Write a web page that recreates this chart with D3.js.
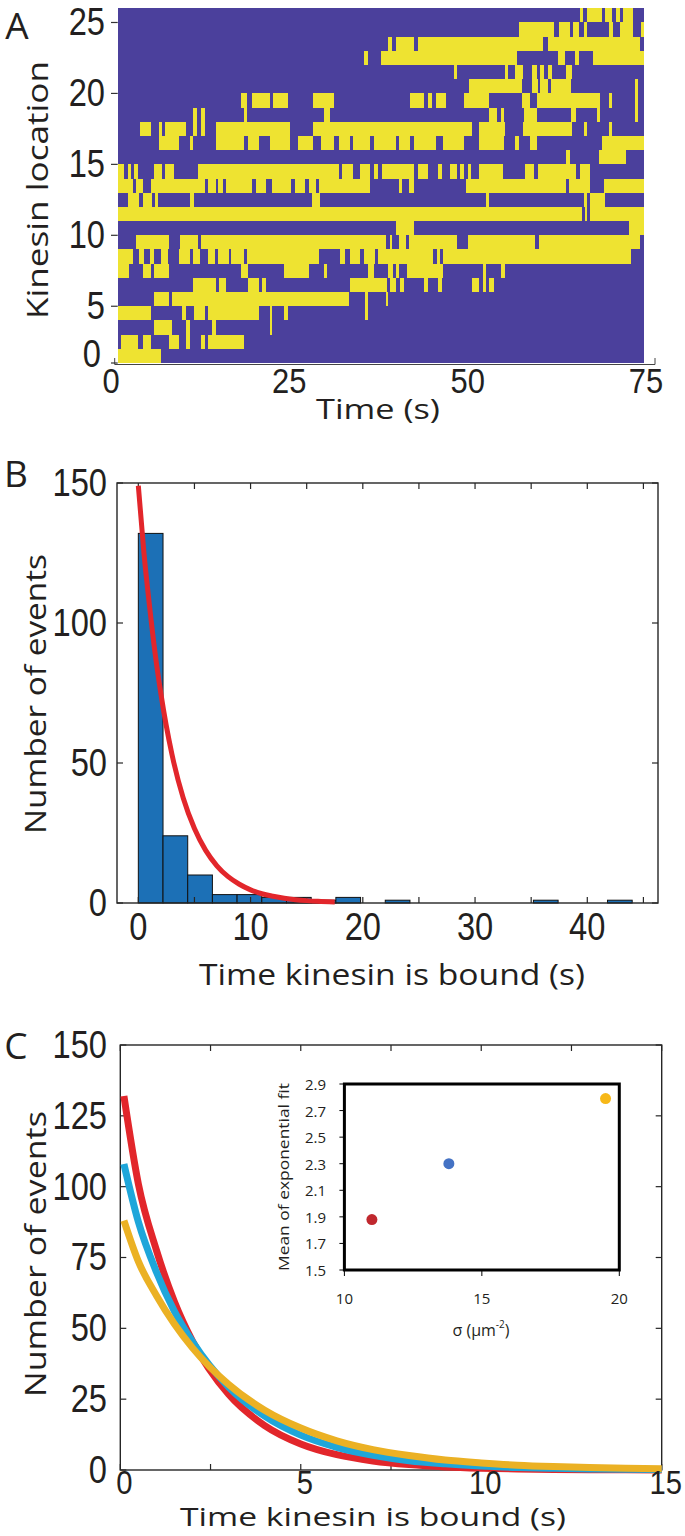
<!DOCTYPE html>
<html><head><meta charset="utf-8">
<script src="https://cdn.jsdelivr.net/npm/d3@7"></script>
<style>body{margin:0;background:#fff} svg{display:block}</style>
</head><body>
<svg id="fig" width="685" height="1536"></svg>
<script>
// ---------------- DATA ----------------
// Panel A: kymograph, bound intervals [start s, end s] per kinesin location
const kinesinLocations = [25,24,23,22,21,20,19,18,17,16,15,14,13,12,11,10,9,8,7,6,5,4,3,2,1];
const boundIntervals = [
 [[64.6,65.0],[65.5,67.6],[68.1,69.0],[69.6,70.1],[70.6,72.0]],
 [[56.1,61.0],[61.7,63.2],[63.6,64.4],[65.1,65.5],[68.6,69.2],[70.1,72.0],[73.1,73.5]],
 [[38.0,38.5],[39.0,41.6],[42.1,59.5],[60.1,72.9]],
 [[34.6,35.1],[37.0,55.8],[61.6,62.5],[63.9,64.4],[66.4,73.5]],
 [[47.1,47.5],[54.2,54.6],[55.6,56.7],[57.9,58.6],[59.1,59.6],[60.1,60.7],[62.6,63.5]],
 [[49.2,56.5],[57.9,58.7],[59.1,60.1],[60.6,63.4],[72.2,72.6]],
 [[17.5,18.4],[19.1,21.5],[22.0,24.0],[27.5,30.5],[41.0,43.0],[43.5,44.1],[44.6,46.0],[48.5,52.0],[56.5,57.6],[58.6,67.4],[68.6,69.1],[72.2,72.6]],
 [[10.9,11.4],[12.0,12.5],[18.0,18.4],[29.0,29.9],[52.0,53.0],[53.6,54.0],[56.8,58.6],[63.4,64.1],[67.0,67.4],[72.2,72.6]],
 [[3.5,5.0],[6.1,6.5],[7.0,9.9],[10.9,11.4],[12.0,12.5],[14.0,24.4],[27.5,49.6],[50.6,54.2],[56.7,63.5],[65.2,65.5],[68.6,69.1]],
 [[6.1,8.9],[10.4,10.9],[14.0,18.0],[18.5,20.0],[21.5,24.4],[25.5,27.5],[28.6,30.5],[31.1,32.6],[33.1,35.4],[36.0,39.0],[39.5,41.0],[41.6,44.6],[45.6,48.5],[50.6,54.0],[55.6,56.1],[57.6,58.6],[67.7,73.5]],
 [[62.7,63.2],[67.2,71.0]],
 [[0.4,1.3],[1.8,2.3],[2.7,3.3],[5.5,6.5],[7.0,8.3],[11.5,31.1],[31.6,33.1],[34.0,35.5],[36.0,36.5],[37.1,41.6],[42.1,43.5],[44.9,45.4],[46.6,47.5],[48.0,48.5],[49.0,49.4],[50.6,53.9],[57.0,58.2],[58.7,64.1],[64.6,66.0]],
 [[0.4,2.5],[3.0,3.9],[5.1,12.5],[12.9,14.0],[14.4,15.1],[15.5,19.1],[19.6,21.0],[21.9,24.5],[25.0,26.4],[27.0,27.9],[28.3,35.4],[39.5,39.9],[40.9,41.6],[48.7,62.7],[63.1,66.0],[67.9,73.5]],
 [[1.8,3.4],[3.9,5.2],[5.6,6.0],[10.5,11.0],[27.4,28.5],[51.5,52.0],[65.1,65.5],[66.0,68.1]],
 [[0.4,64.9],[65.3,65.6],[66.0,73.5]],
 [[39.0,41.5],[71.4,73.5]],
 [[3.0,7.5],[9.0,11.5],[12.0,37.6],[38.2,38.5],[39.5,40.4],[40.9,47.5],[49.1,58.3],[58.9,72.9]],
 [[0.4,2.6],[3.4,4.0],[4.9,5.4],[6.4,7.4],[8.9,10.5],[10.9,11.8],[13.0,13.9],[14.4,15.8],[16.2,17.9],[18.3,28.3],[31.3,32.0],[32.6,34.1],[34.6,36.1],[36.6,44.2],[44.7,45.1],[45.6,71.7]],
 [[0.4,2.0],[3.9,5.0],[5.5,7.5],[17.5,18.5],[23.5,27.0],[29.0,29.5],[35.1,36.0],[38.0,38.7],[39.1,39.5],[40.6,45.6],[51.1,51.6],[53.6,54.2]],
 [[10.9,14.0],[14.5,15.4],[18.5,20.0],[20.5,21.0],[32.6,37.8],[38.2,39.0],[39.6,40.1],[42.9,43.5],[44.9,45.4],[49.6,50.6],[51.1,51.5],[52.0,52.6]],
 [[5.5,7.5],[8.0,32.5],[34.7,35.1],[37.6,38.0]],
 [[0.4,5.0],[9.4,9.9],[11.0,12.5],[12.9,20.0],[21.5,21.9],[23.5,24.0],[34.7,35.1]],
 [[5.5,7.9],[9.9,10.4],[13.5,14.0],[21.5,21.9]],
 [[0.9,3.3],[3.9,5.0],[7.5,8.9],[9.9,10.4],[12.0,12.5],[12.9,18.0]],
 [[0.4,6.4]]
];
const recordingRange = [0.4, 73.5];
const ticksA_x = [0, 25, 50, 75];
const ticksA_y = [0, 5, 10, 15, 20, 25];

// Panel B: histogram of bound times
const histBinLeft = [0,2.2,4.4,6.6,8.8,11,13.2,15.4,17.6,19.8,22,24.2,26.4,28.6,30.8,33,35.2,37.4,39.6,41.8];
const histCounts  = [132,24,10,3,3,2,2,1,2,0,1,0,0,0,0,0,1,0,0,1];
const histBinWidth = 2.2;
const fitB_t = [0,0.5,1,1.5,2,3,4,5,6,7,8,9,10,11,12,13,14,15,16,17.5];
const fitB_n = [149,125,106,89,75,53,37.5,26.6,18.8,13.3,9.4,6.7,4.7,3.3,2.4,1.7,1.2,0.85,0.6,0.4];
const ticksB_x = [0,5,10,15,20,25,30,35,40,45];
const labelsB_x = [0,10,20,30,40];
const ticksB_y = [0,50,100,150];

// Panel C: exponential fits for three densities
const fitC_t      = [0.1,0.5,1,1.5,2,3,4,5,6,7,8,9,10,11,12,13,14,15];
const fitC_red    = [132,101,77.6,59.4,45.5,26.7,15.7,9.2,5.4,3.2,1.9,1.1,0.65,0.38,0.22,0.13,0.08,0.04];
const fitC_blue   = [108,87.6,69.9,56.0,45.3,29.3,19.0,12.3,8.0,5.2,3.3,2.2,1.4,0.9,0.6,0.38,0.25,0.16];
const fitC_yellow = [88,73.6,61.6,51.5,43.1,30.2,21.1,14.8,10.3,7.2,5.1,3.5,2.5,1.7,1.2,0.85,0.6,0.42];
const ticksC_x = [0,2.5,5,7.5,10,12.5,15];
const labelsC_x = [0,5,10,15];
const ticksC_y = [0,25,50,75,100,125,150];

// Inset: mean of exponential fit vs density
const insetSigma = [11.0, 13.8, 19.5];
const insetMean  = [1.88, 2.30, 2.79];
const insetColors = ["#C0282E", "#4472C4", "#F7B818"];
const insetTicksY = [1.5,1.7,1.9,2.1,2.3,2.5,2.7,2.9];
const insetTicksX = [10,15,20];

// ---------------- DRAW ----------------
const svg = d3.select("#fig");
const tickFont = "'Liberation Sans', Arial, sans-serif";
const titleFont = "'Open Sans', 'Noto Sans', sans-serif";
const ink = "#231f20";

function label(x, y, txt, size, anchor, opts={}) {
  const t = svg.append("text").attr("x", x).attr("y", y).text(txt)
    .attr("font-family", opts.font || titleFont).attr("font-size", size)
    .attr("text-anchor", anchor).attr("dominant-baseline", "central").attr("fill", ink);
  if (opts.len) t.attr("textLength", opts.len).attr("lengthAdjust", "spacingAndGlyphs");
  if (opts.rot) t.attr("transform", `rotate(-90,${x},${y})`);
  return t;
}
// condensed numeric tick label
function tickLabel(x, y, txt, anchor, size=38) {
  return svg.append("text").attr("transform", `translate(${x},${y}) scale(0.86,1)`)
    .text(txt).attr("font-family", tickFont).attr("font-size", size)
    .attr("text-anchor", anchor).attr("dominant-baseline", "central").attr("fill", ink);
}

// ---- Panel A ----
const xA = d3.scaleLinear([0, 75], [114.7, 655]);
const xAlabel = d3.scaleLinear([0, 75], [111, 646]);
const yA = d3.scaleLinear([1, 26], [363, 8.3]).clamp(true);
const gA = svg.append("g").attr("shape-rendering", "crispEdges");
gA.append("rect").attr("x", xA(recordingRange[0])).attr("y", yA(26))
  .attr("width", xA(recordingRange[1]) - xA(recordingRange[0])).attr("height", yA(1) - yA(26))
  .attr("fill", "#4B409C");
kinesinLocations.forEach((loc, i) => {
  gA.selectAll(null).data(boundIntervals[i]).join("rect")
    .attr("x", d => xA(d[0])).attr("width", d => xA(d[1]) - xA(d[0]))
    .attr("y", yA(loc + 1)).attr("height", yA(loc) - yA(loc + 1))
    .attr("fill", "#EEE331");
});
svg.append("path").attr("d", `M${xA(0)},${yA(0)-5}V${yA(0)+1.5}H${xA(75)}V${yA(0)-5}`)
  .attr("fill", "none").attr("stroke", "#444").attr("stroke-width", 1);
ticksA_y.forEach(v => {
  svg.append("line").attr("x1", 111).attr("x2", 117.7).attr("y1", yA(v)).attr("y2", yA(v))
    .attr("stroke", "#333").attr("stroke-width", 1.2);
  tickLabel(v === 0 ? 101 : 105, yA(v) - (v === 0 ? 9 : 0), v, "end");
});
ticksA_x.forEach(v => tickLabel(xAlabel(v), 381, v, "middle", 36));
label(378, 408, "Time (s)", 28, "middle", {len: 124});
label(36, 190, "Kinesin location", 29, "middle", {len: 258, rot: true});
label(17, 24, "A", 37, "middle");

// ---- Panel B ----
const xB = d3.scaleLinear([-1.9, 46.3], [117, 658]);
const yB = d3.scaleLinear([0, 150], [903, 483]);
const bins = histBinLeft.map((l, i) => ({l, n: histCounts[i]})).filter(d => d.n > 0);
svg.append("g").selectAll("rect").data(bins).join("rect")
  .attr("x", d => xB(d.l)).attr("width", d => xB(d.l + histBinWidth) - xB(d.l))
  .attr("y", d => yB(d.n)).attr("height", d => yB(0) - yB(d.n))
  .attr("fill", "#1C70B6").attr("stroke", "#111").attr("stroke-width", 1);
svg.append("rect").attr("x", 117).attr("y", 483).attr("width", 658-117).attr("height", 903-483)
  .attr("fill", "none").attr("stroke", "#262626").attr("stroke-width", 1.4);
ticksB_x.forEach(v => {
  svg.append("line").attr("x1", xB(v)).attr("x2", xB(v)).attr("y1", 903).attr("y2", 897).attr("stroke", "#262626").attr("stroke-width", 1.2);
  svg.append("line").attr("x1", xB(v)).attr("x2", xB(v)).attr("y1", 483).attr("y2", 489).attr("stroke", "#262626").attr("stroke-width", 1.2);
});
ticksB_y.forEach(v => {
  svg.append("line").attr("x1", 117).attr("x2", 123).attr("y1", yB(v)).attr("y2", yB(v)).attr("stroke", "#262626").attr("stroke-width", 1.2);
  svg.append("line").attr("x1", 658).attr("x2", 652).attr("y1", yB(v)).attr("y2", yB(v)).attr("stroke", "#262626").attr("stroke-width", 1.2);
  tickLabel(107, yB(v), v, "end");
});
svg.append("path").datum(fitB_t.map((t, i) => [t, fitB_n[i]]))
  .attr("d", d3.line().x(d => xB(d[0])).y(d => yB(d[1])).curve(d3.curveMonotoneX))
  .attr("fill", "none").attr("stroke", "#E2262B").attr("stroke-width", 5);
labelsB_x.forEach(v => tickLabel(xB(v), 927, v, "middle"));
label(392, 973, "Time kinesin is bound (s)", 29, "middle", {len: 386});
label(34, 694, "Number of events", 29, "middle", {len: 280, rot: true});
label(16, 472, "B", 37, "middle");

// ---- Panel C ----
const xC = d3.scaleLinear([0, 15], [120.3, 661.7]);
const yC = d3.scaleLinear([0, 150], [1470, 1045]);
svg.append("rect").attr("x", xC(0)).attr("y", yC(150)).attr("width", xC(15) - xC(0)).attr("height", yC(0) - yC(150))
  .attr("fill", "none").attr("stroke", "#262626").attr("stroke-width", 1.4);
ticksC_x.forEach(v => {
  svg.append("line").attr("x1", xC(v)).attr("x2", xC(v)).attr("y1", yC(0)).attr("y2", yC(0) - 6).attr("stroke", "#262626").attr("stroke-width", 1.2);
  svg.append("line").attr("x1", xC(v)).attr("x2", xC(v)).attr("y1", yC(150)).attr("y2", yC(150) + 6).attr("stroke", "#262626").attr("stroke-width", 1.2);
});
ticksC_y.forEach(v => {
  svg.append("line").attr("x1", xC(0)).attr("x2", xC(0) + 6).attr("y1", yC(v)).attr("y2", yC(v)).attr("stroke", "#262626").attr("stroke-width", 1.2);
  svg.append("line").attr("x1", xC(15)).attr("x2", xC(15) - 6).attr("y1", yC(v)).attr("y2", yC(v)).attr("stroke", "#262626").attr("stroke-width", 1.2);
  tickLabel(107, yC(v), v, "end");
});
const lineC = d3.line().x(d => xC(d[0])).y(d => yC(d[1])).curve(d3.curveMonotoneX);
[[fitC_red, "#E2262B"], [fitC_blue, "#1EA6DA"], [fitC_yellow, "#EBB124"]].forEach(([vals, col]) => {
  svg.append("path").datum(fitC_t.map((t, i) => [t, vals[i]]))
    .attr("d", lineC).attr("fill", "none").attr("stroke", col).attr("stroke-width", 7);
});
labelsC_x.forEach(v => tickLabel(xC(v) + 4, 1482, v, "middle", 34));
label(373, 1516, "Time kinesin is bound (s)", 25, "middle", {len: 386});
label(34, 1254, "Number of events", 29, "middle", {len: 286, rot: true});
label(16, 1044, "C", 37, "middle");

// ---- Inset ----
const xI = d3.scaleLinear([10, 20], [344.4, 619.3]);
const yI = d3.scaleLinear([1.5, 2.9], [1270, 1084]);
svg.append("rect").attr("x", xI(10)).attr("y", yI(2.9)).attr("width", xI(20) - xI(10)).attr("height", yI(1.5) - yI(2.9))
  .attr("fill", "#fff").attr("stroke", "#000").attr("stroke-width", 3);
insetTicksY.forEach(v => {
  svg.append("line").attr("x1", xI(10) - 5).attr("x2", xI(10)).attr("y1", yI(v)).attr("y2", yI(v)).attr("stroke", "#000").attr("stroke-width", 1);
  label(326, yI(v), v.toFixed(1), 15, "end");
});
insetTicksX.forEach(v => {
  svg.append("line").attr("x1", xI(v)).attr("x2", xI(v)).attr("y1", yI(1.5)).attr("y2", yI(1.5) + 6).attr("stroke", "#000").attr("stroke-width", 1);
  label(xI(v), 1298, v, 15, "middle");
});
svg.append("g").selectAll("circle").data(insetSigma.map((s, i) => ({s, m: insetMean[i], c: insetColors[i]})))
  .join("circle").attr("cx", d => xI(d.s)).attr("cy", d => yI(d.m)).attr("r", 5.5).attr("fill", d => d.c);
const sig = svg.append("text").attr("x", 481).attr("y", 1330).attr("text-anchor", "middle")
  .attr("dominant-baseline", "central").attr("font-family", titleFont).attr("font-size", 16).attr("fill", ink);
sig.append("tspan").text("σ (μm");
sig.append("tspan").text("-2").attr("font-size", 10).attr("dy", -6);
sig.append("tspan").text(")").attr("dy", 6);
label(283, 1177, "Mean of exponential fit", 15, "middle", {len: 188, rot: true});
</script>
</body></html>
